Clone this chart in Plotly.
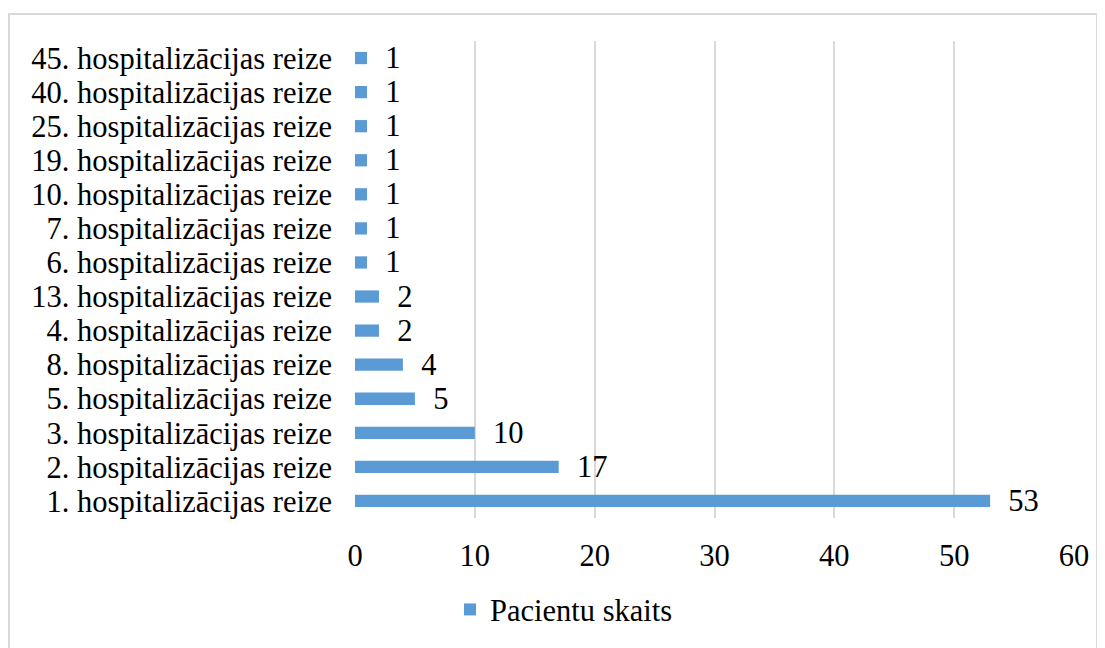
import plotly.graph_objects as go

categories = ["1. hospitalizācijas reize", "2. hospitalizācijas reize", "3. hospitalizācijas reize",
              "5. hospitalizācijas reize", "8. hospitalizācijas reize", "4. hospitalizācijas reize",
              "13. hospitalizācijas reize", "6. hospitalizācijas reize", "7. hospitalizācijas reize",
              "10. hospitalizācijas reize", "19. hospitalizācijas reize", "25. hospitalizācijas reize",
              "40. hospitalizācijas reize", "45. hospitalizācijas reize"]
patients = [53, 17, 10, 5, 4, 2, 2, 1, 1, 1, 1, 1, 1, 1]

# page has an 8px body margin, so work in figure coords = screen - 8
W, H = 1097, 640
L, R, T, B = 347, 31, 33, 128
pw, ph = W - L - R, H - T - B

def px_x(p):
    return (p - 8 - L) / pw

def px_y(p):
    return (H - B - (p - 8)) / ph

font = dict(family="Times New Roman, Liberation Serif", size=30.5, color="#000000")

fig = go.Figure(go.Bar(
    y=categories, x=patients, orientation="h",
    name="Pacientu skaits",
    marker=dict(color="#5B9BD5", line=dict(width=0)),
    text=patients, texttemplate="\u00a0\u00a0%{x}", textposition="outside",
    constraintext="none", textfont=font, cliponaxis=False,
))

fig.update_layout(
    width=W, height=H,
    margin=dict(l=L, r=R, t=T, b=B),
    paper_bgcolor="white", plot_bgcolor="white",
    font=font,
    bargap=0.64,
    showlegend=True,
    legend=dict(orientation="h", x=px_x(450), xanchor="left", y=px_y(612), yanchor="middle",
                font=font, bgcolor="rgba(0,0,0,0)"),
    shapes=[dict(type="rect", xref="paper", yref="paper",
                 x0=px_x(9), x1=px_x(1097), y0=px_y(652), y1=px_y(14),
                 line=dict(color="#D9D9D9", width=2), layer="below")],
)

fig.update_xaxes(range=[0, 60], dtick=10, showgrid=True, gridcolor="#D9D9D9", gridwidth=2,
                 zeroline=False, showline=False, ticks="", ticklabelstandoff=16,
                 tickfont=font)
fig.update_yaxes(categoryorder="array", categoryarray=categories, showgrid=False,
                 tickmode="array", tickvals=categories, ticktext=categories,
                 showline=False, ticks="", ticklabelstandoff=22, tickfont=font)

fig.write_html("out.html")
